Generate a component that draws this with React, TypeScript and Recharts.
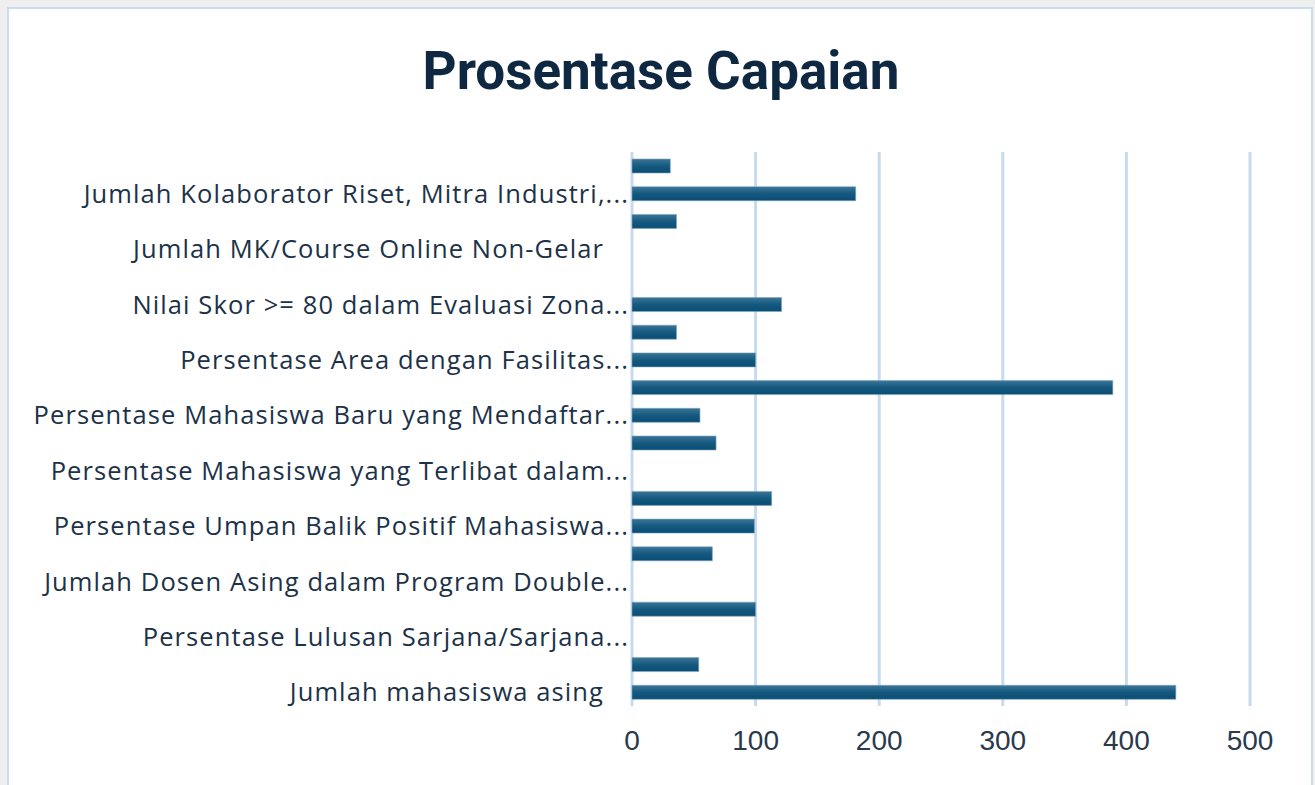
import React from 'react'
import { BarChart, Bar, XAxis, YAxis, CartesianGrid } from 'recharts'

// categories bottom -> top (only every other one has a visible label)
const categories = [
  'Jumlah mahasiswa asing',
  '',
  'Persentase Lulusan Sarjana/Sarjana...',
  '',
  'Jumlah Dosen Asing dalam Program Double...',
  '',
  'Persentase Umpan Balik Positif Mahasiswa...',
  '',
  'Persentase Mahasiswa yang Terlibat dalam...',
  '',
  'Persentase Mahasiswa Baru yang Mendaftar...',
  '',
  'Persentase Area dengan Fasilitas...',
  '',
  'Nilai Skor >= 80 dalam Evaluasi Zona...',
  '',
  'Jumlah MK/Course Online Non-Gelar',
  '',
  'Jumlah Kolaborator Riset, Mitra Industri,...',
  '',
]

const values = [440, 54, 0, 100, 0, 65, 99, 113, 0, 68, 55, 389, 100, 36, 121, 0, 0, 36, 181, 31]

const xTicks = [0, 100, 200, 300, 400, 500]

const chartData = categories.map((name, i) => ({ name, value: values[i] }))

const CategoryTick = (props: any) => {
  const { x, y, payload } = props
  const label: string = payload.value ?? ''
  if (!label) return null
  // labels that were not truncated sit a bit further left (like Excel)
  const shift = label.endsWith('...') ? 3 : 28
  return (
    <text
      x={x - shift}
      y={y}
      dy="0.36em"
      textAnchor="end"
      fill="#1c3249"
      fontFamily='"Open Sans", sans-serif'
      fontSize={25.5}
      letterSpacing={1.1}
    >
      {label}
    </text>
  )
}

export default function App() {
  return (
    <div
      style={{
        position: 'absolute',
        left: 0,
        top: 0,
        width: 1315,
        height: 785,
        background: '#efefef',
        overflow: 'hidden',
      }}
    >
      <div
        style={{
          position: 'absolute',
          left: 7,
          top: 7,
          width: 1306,
          height: 800,
          boxSizing: 'border-box',
          border: '2px solid #c8dcef',
          background: '#ffffff',
        }}
      >
        <div
          style={{
            position: 'absolute',
            left: 0,
            top: 30,
            width: 1304,
            textAlign: 'center',
            fontFamily: 'Roboto, sans-serif',
            fontWeight: 700,
            fontSize: 53,
            lineHeight: '64px',
            color: '#0e2841',
          }}
        >
          Prosentase Capaian
        </div>
        <div style={{ position: 'absolute', left: 0, top: 0 }}>
          <BarChart
            width={1297}
            height={780}
            data={chartData}
            layout="vertical"
            margin={{ top: 143, right: 56, left: 0, bottom: 33 }}
          >
            <defs>
              <linearGradient id="barGrad" x1="0" y1="0" x2="0" y2="1">
                <stop offset="0%" stopColor="#3a7597" />
                <stop offset="50%" stopColor="#16597f" />
                <stop offset="100%" stopColor="#0a4d75" />
              </linearGradient>
            </defs>
            <CartesianGrid horizontal={false} stroke="#c7dbef" strokeWidth={3} />
            <XAxis
              type="number"
              domain={[0, 500]}
              ticks={xTicks}
              axisLine={false}
              tickLine={false}
              tickSize={0}
              tickMargin={24}
              height={50}
              tick={{ fill: '#2a3a4c', fontSize: 28, fontFamily: '"Liberation Sans", Arial, sans-serif' }}
            />
            <YAxis
              type="category"
              dataKey="name"
              reversed
              width={623}
              interval={0}
              axisLine={false}
              tickLine={false}
              tickSize={0}
              tickMargin={0}
              tick={<CategoryTick />}
            />
            <Bar
              dataKey="value"
              fill="url(#barGrad)"
              stroke="#7ea5c0"
              strokeWidth={0.6}
              barSize={14}
              isAnimationActive={false}
            />
          </BarChart>
        </div>
      </div>
    </div>
  )
}
